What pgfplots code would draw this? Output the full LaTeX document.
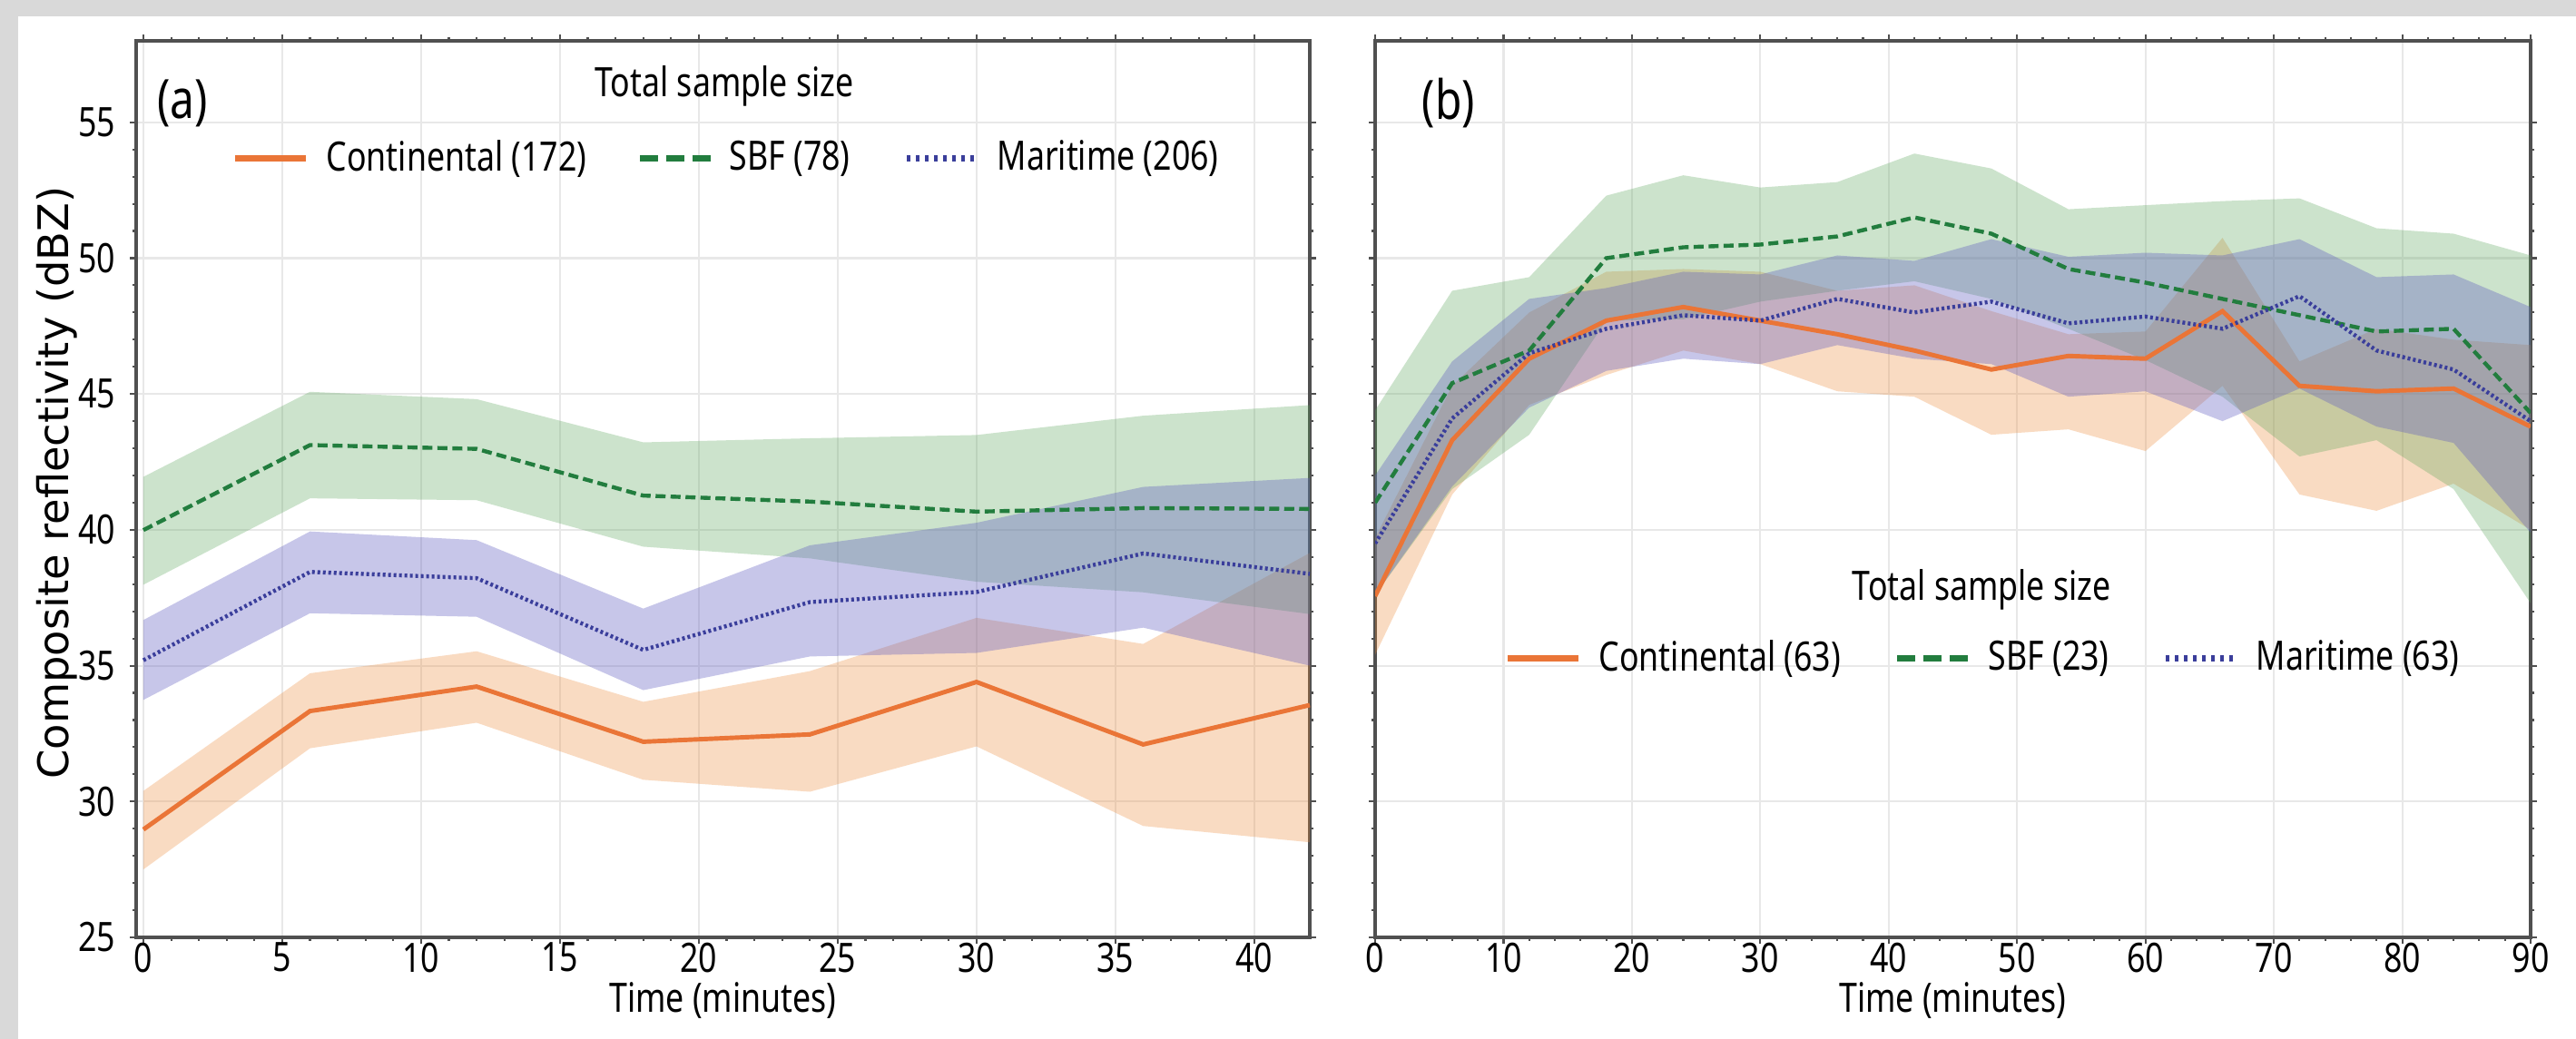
\documentclass[border=0pt]{standalone}
\usepackage{pgfplots}
\pgfplotsset{compat=1.18}
\usepackage{pgfplotstable}
\usepgfplotslibrary{fillbetween}
\usepackage{fontspec}
\setmainfont{Noto Sans}[FakeStretch=0.8]
\newfontfamily\dejavu{DejaVu Sans}

\definecolor{corange}{RGB}{234,117,55}
\definecolor{cgreen}{RGB}{34,125,62}
\definecolor{cblue}{RGB}{58,62,155}
\definecolor{forange}{RGB}{238,138,55}
\definecolor{fgreen}{RGB}{88,165,88}
\definecolor{fblue}{RGB}{95,92,192}
\definecolor{axgray}{RGB}{80,80,80}
\definecolor{gridgray}{RGB}{232,232,232}
\definecolor{bggray}{RGB}{217,217,217}

% Panel (a)
\pgfplotstableread{
x mean lo hi
0  28.97 27.50 30.39
6  33.33 31.96 34.72
12 34.23 32.90 35.53
18 32.20 30.80 33.67
24 32.47 30.36 34.80
30 34.40 32.03 36.76
36 32.10 29.10 35.80
42 33.55 28.50 39.15
}\aCont
\pgfplotstableread{
x mean lo hi
0  39.99 37.98 41.95
6  43.12 41.16 45.08
12 42.98 41.09 44.81
18 41.26 39.38 43.22
24 41.04 38.95 43.37
30 40.67 38.09 43.49
36 40.80 37.70 44.20
42 40.77 36.90 44.59
}\aSBF
\pgfplotstableread{
x mean lo hi
0  35.20 33.74 36.68
6  38.45 36.93 39.94
12 38.22 36.80 39.62
18 35.58 34.10 37.10
24 37.34 35.34 39.43
30 37.71 35.47 40.26
36 39.13 36.40 41.58
42 38.38 35.00 41.91
}\aMar
% Panel (b)
\pgfplotstableread{
x mean lo hi
0  37.56 35.40 39.70
6  43.30 41.30 45.30
12 46.30 44.60 48.00
18 47.70 45.70 49.50
24 48.20 46.60 49.60
30 47.70 46.10 49.50
36 47.20 45.10 48.80
42 46.60 44.90 49.00
48 45.90 43.50 48.05
54 46.40 43.70 47.20
60 46.30 42.90 47.30
66 48.05 45.30 50.75
72 45.30 41.30 46.20
78 45.10 40.70 47.40
84 45.20 41.70 47.00
90 43.80 40.00 46.80
}\bCont
\pgfplotstableread{
x mean lo hi
0  41.00 37.60 44.40
6  45.40 41.50 48.80
12 46.60 43.50 49.30
18 50.00 47.70 52.30
24 50.40 47.75 53.05
30 50.50 48.40 52.60
36 50.80 48.80 52.80
42 51.50 49.15 53.85
48 50.90 48.50 53.30
54 49.60 47.40 51.80
60 49.10 46.25 51.95
66 48.50 44.90 52.10
72 47.90 42.70 52.20
78 47.30 43.30 51.10
84 47.40 41.50 50.90
90 44.30 37.30 50.10
}\bSBF
\pgfplotstableread{
x mean lo hi
0  39.50 37.60 42.00
6  44.10 41.60 46.20
12 46.50 44.50 48.50
18 47.40 45.85 48.90
24 47.90 46.30 49.50
30 47.70 46.10 49.40
36 48.50 46.80 50.10
42 48.00 46.30 49.90
48 48.40 46.10 50.70
54 47.60 44.90 50.05
60 47.85 45.10 50.20
66 47.40 44.00 50.10
72 48.60 45.20 50.70
78 46.60 43.80 49.30
84 45.90 43.20 49.40
90 44.00 39.90 48.20
}\bMar

\pgfplotsset{
  refax/.style={
    scale only axis,
    axis line style={draw=axgray, line width=0.9pt},
    tick align=outside,
    major tick length=0.07cm,
    minor tick length=0.04cm,
    tick style={draw=axgray, line width=0.6pt},
    grid=major,
    major grid style={draw=gridgray, line width=0.6pt},
    ymin=25, ymax=58,
    ytick={25,30,...,55},
    minor y tick num=4,
    /pgf/number format/assume math mode=true,
    ticklabel style={font=\fontsize{12.7}{14}\selectfont, text=black},
    xticklabel style={inner sep=0pt, anchor=north, yshift=0.02cm},
    yticklabel style={inner sep=0pt, anchor=east, xshift=-0.15cm},
    label style={font=\fontsize{12.7}{14}\selectfont},
    xlabel={Time (minutes)},
    xlabel style={at={(axis description cs:0.5,-0.0700)}, anchor=center},
  },
  contfill/.style={fill=forange, fill opacity=0.3, draw=none},
  sbffill/.style={fill=fgreen, fill opacity=0.3, draw=none},
  marfill/.style={fill=fblue, fill opacity=0.35, draw=none},
  contline/.style={corange, line width=1.4pt, solid},
  sbfline/.style={cgreen, line width=1.25pt, dash pattern=on 0.11cm off 0.055cm},
  marline/.style={cblue, line width=1.25pt, dash pattern=on 0.03cm off 0.03cm},
}

\begin{document}
\begin{tikzpicture}

% ---------------- Panel (a)
\begin{axis}[refax, at={(1.50cm,1.12cm)}, anchor=south west,
  width=12.93cm, height=9.88cm,
  xmin=-0.26, xmax=42, clip=false,
  xtick={0,5,...,40}, minor x tick num=4,
  ylabel={Composite reflectivity (dBZ)},
  ylabel style={font=\dejavu\fontsize{13.2}{15}\selectfont,
    at={(axis description cs:-0.0673,0.507)}, anchor=center},
]
\begin{pgfonlayer}{axis background}
\fill[bggray] (rel axis cs:-0.11601,-0.11336) rectangle (rel axis cs:2.07889,1.04555);
\fill[white] (rel axis cs:-0.10054,-0.11336) rectangle (rel axis cs:2.07889,1.02733);
\end{pgfonlayer}
\addplot[name path=ach, draw=none, forget plot] table[x=x,y=hi]{\aCont};
\addplot[name path=acl, draw=none, forget plot] table[x=x,y=lo]{\aCont};
\addplot[contfill, forget plot] fill between[of=ach and acl];
\addplot[name path=asu, draw=none, forget plot] table[x=x,y=hi]{\aSBF};
\addplot[name path=asl, draw=none, forget plot] table[x=x,y=lo]{\aSBF};
\addplot[sbffill, forget plot] fill between[of=asu and asl];
\addplot[name path=amu, draw=none, forget plot] table[x=x,y=hi]{\aMar};
\addplot[name path=aml, draw=none, forget plot] table[x=x,y=lo]{\aMar};
\addplot[marfill, forget plot] fill between[of=amu and aml];
\addplot[contline] table[x=x,y=mean]{\aCont};
\addplot[sbfline] table[x=x,y=mean]{\aSBF};
\addplot[marline] table[x=x,y=mean]{\aMar};
\end{axis}

% ---------------- Panel (b)
\begin{axis}[refax, at={(15.15cm,1.12cm)}, anchor=south west,
  width=12.73cm, height=9.88cm,
  xmin=0, xmax=90,
  xtick={0,10,...,90}, minor x tick num=4,
  yticklabels={},
]
\addplot[name path=bch, draw=none, forget plot] table[x=x,y=hi]{\bCont};
\addplot[name path=bcl, draw=none, forget plot] table[x=x,y=lo]{\bCont};
\addplot[contfill, forget plot] fill between[of=bch and bcl];
\addplot[name path=bsu, draw=none, forget plot] table[x=x,y=hi]{\bSBF};
\addplot[name path=bsl, draw=none, forget plot] table[x=x,y=lo]{\bSBF};
\addplot[sbffill, forget plot] fill between[of=bsu and bsl];
\addplot[name path=bmu, draw=none, forget plot] table[x=x,y=hi]{\bMar};
\addplot[name path=bml, draw=none, forget plot] table[x=x,y=lo]{\bMar};
\addplot[marfill, forget plot] fill between[of=bmu and bml];
\addplot[contline] table[x=x,y=mean]{\bCont};
\addplot[sbfline] table[x=x,y=mean]{\bSBF};
\addplot[marline] table[x=x,y=mean]{\bMar};
\end{axis}

% ---------------- Panel labels and legends
\begin{scope}[font=\fontsize{12.7}{14}\selectfont]
\node[font=\fontsize{17}{19}\selectfont] at (2.01,10.31) {(a)};
\node[font=\fontsize{17}{19}\selectfont] at (15.96,10.31) {(b)};

\node at (7.98,10.50) {Total sample size};
\draw[corange, line width=2pt] (2.59,9.70) -- (3.37,9.70);
\node[anchor=west, inner sep=0pt] at (3.59,9.70) {Continental (172)};
\draw[cgreen, line width=2pt, dash pattern=on 0.2cm off 0.09cm] (7.05,9.70) -- (7.85,9.70);
\node[anchor=west, inner sep=0pt] at (8.03,9.70) {SBF (78)};
\draw[cblue, line width=2pt, dash pattern=on 0.04cm off 0.06cm] (9.99,9.70) -- (10.77,9.70);
\node[anchor=west, inner sep=0pt] at (10.98,9.70) {Maritime (206)};

\node at (21.83,4.95) {Total sample size};
\draw[corange, line width=2pt] (16.61,4.19) -- (17.39,4.19);
\node[anchor=west, inner sep=0pt] at (17.61,4.19) {Continental (63)};
\draw[cgreen, line width=2pt, dash pattern=on 0.2cm off 0.09cm] (20.90,4.19) -- (21.69,4.19);
\node[anchor=west, inner sep=0pt] at (21.90,4.19) {SBF (23)};
\draw[cblue, line width=2pt, dash pattern=on 0.04cm off 0.06cm] (23.86,4.19) -- (24.64,4.19);
\node[anchor=west, inner sep=0pt] at (24.85,4.19) {Maritime (63)};
\end{scope}
\end{tikzpicture}
\end{document}
